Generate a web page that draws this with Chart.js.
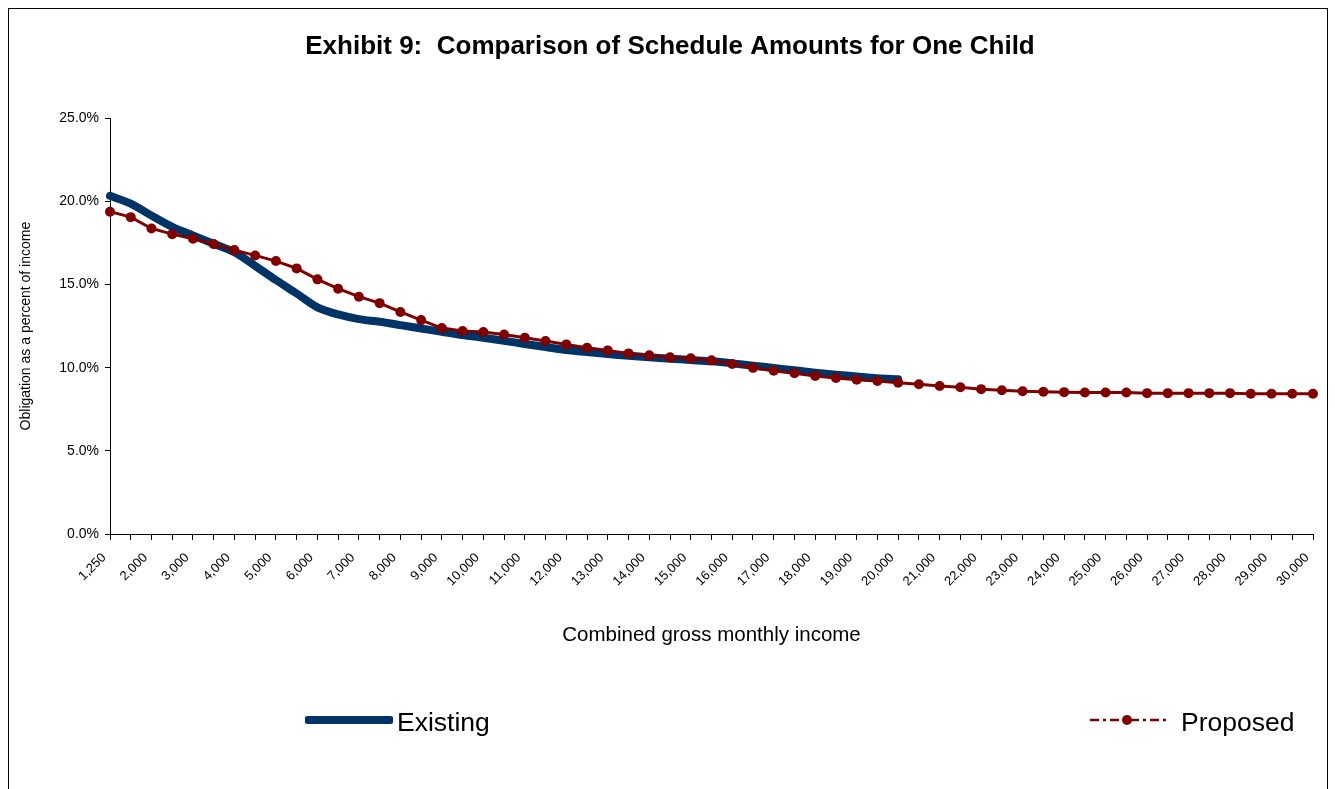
<!DOCTYPE html>
<html>
<head>
<meta charset="utf-8">
<title>Exhibit 9</title>
<script src="https://cdn.jsdelivr.net/npm/chart.js@4"></script>
<style>
  body { margin: 0; background: #fff; font-family: "Liberation Sans", Arial, sans-serif; }
  #wrap { position: relative; width: 1335px; height: 789px; overflow: hidden; }
  #frame { position: absolute; left: 8px; top: 8px; width: 1318px; height: 820px; border: 1px solid #000; }
  canvas { position: absolute; left: 0; top: 0; }
  .leg { position: absolute; font-size: 26.5px; color: #000; line-height: 1; }
  .leg svg { position: absolute; }
</style>
</head>
<body>
<div id="wrap">
  <div id="frame"></div>
  <canvas id="scheduleChart" width="1335" height="789"></canvas>
  <div class="leg" style="left:305px; top:708px;">
    <svg width="88" height="14" style="left:0; top:5px;"><line x1="3" y1="7" x2="85" y2="7" stroke="#003366" stroke-width="8" stroke-linecap="round"/></svg>
    <span style="position:absolute; left:92px; top:1px;">Existing</span>
  </div>
  <div class="leg" style="left:1090px; top:708px;">
    <svg width="78" height="14" style="left:0; top:5px;"><line x1="0" y1="7" x2="76" y2="7" stroke="#800000" stroke-width="2.5" stroke-dasharray="9,4,3,4"/><circle cx="37" cy="7" r="5" fill="#800000"/></svg>
    <span style="position:absolute; left:91px; top:1px; white-space:nowrap;">Proposed</span>
  </div>
</div>
<script>
// Combined gross monthly income categories
const incomes = [1250, 1500, 2000, 2500, 3000, 3500, 4000, 4500, 5000, 5500,
                 6000, 6500, 7000, 7500, 8000, 8500, 9000, 9500, 10000, 10500,
                 11000, 11500, 12000, 12500, 13000, 13500, 14000, 14500, 15000, 15500,
                 16000, 16500, 17000, 17500, 18000, 18500, 19000, 19500, 20000, 20500,
                 21000, 21500, 22000, 22500, 23000, 23500, 24000, 24500, 25000, 25500,
                 26000, 26500, 27000, 27500, 28000, 28500, 29000, 29500, 30000];

// Obligation as a percent of income (existing schedule stops at 20,000)
const existing = [20.33, 19.87, 19.15, 18.47, 17.95, 17.45, 16.94, 16.12, 15.27, 14.46,
                  13.63, 13.20, 12.92, 12.76, 12.56, 12.36, 12.16, 11.96, 11.80, 11.62,
                  11.42, 11.24, 11.06, 10.94, 10.82, 10.72, 10.62, 10.54, 10.46, 10.38,
                  10.26, 10.12, 9.98, 9.84, 9.70, 9.58, 9.47, 9.37, 9.30];

const proposed = [19.38, 19.05, 18.37, 18.03, 17.75, 17.43, 17.07, 16.75, 16.41, 15.97,
                  15.31, 14.75, 14.27, 13.88, 13.35, 12.86, 12.38, 12.21, 12.14, 11.99,
                  11.80, 11.60, 11.40, 11.20, 11.04, 10.86, 10.74, 10.62, 10.56, 10.44,
                  10.22, 9.99, 9.82, 9.66, 9.50, 9.38, 9.28, 9.20, 9.10, 9.00,
                  8.90, 8.82, 8.71, 8.64, 8.58, 8.55, 8.53, 8.51, 8.51, 8.51,
                  8.47, 8.47, 8.47, 8.47, 8.47, 8.43, 8.43, 8.43, 8.43];

const yTicks = [0, 5, 10, 15, 20, 25];

Chart.defaults.font.family = '"Liberation Sans", Arial, sans-serif';
Chart.defaults.color = '#000';

let ctx = document.getElementById('scheduleChart').getContext('2d');
let scheduleChart = new Chart(ctx, {
    type: 'line',
    data: {
        labels: incomes.map(v => v.toLocaleString('en-US')),
        datasets: [{
            label: 'Existing',
            data: existing,
            order: 2,
            borderColor: '#003366',
            backgroundColor: '#003366',
            borderWidth: 8,
            borderCapStyle: 'round',
            borderJoinStyle: 'round',
            pointRadius: 0,
            tension: 0.3
        }, {
            label: 'Proposed',
            data: proposed,
            order: 1,
            borderColor: '#800000',
            backgroundColor: '#800000',
            borderWidth: 3,
            pointRadius: 5,
            pointBorderWidth: 0,
            pointBackgroundColor: '#800000',
            tension: 0
        }]
    },
    options: {
        responsive: false,
        animation: false,
        layout: { padding: { top: 28, left: 27, right: 22, bottom: 125 } },
        plugins: {
            legend: { display: false },
            tooltip: { enabled: false },
            title: {
                display: true,
                text: 'Exhibit 9:  Comparison of Schedule Amounts for One Child',
                font: { size: 26, weight: 'bold' },
                padding: { top: 3, bottom: 56 }
            }
        },
        scales: {
            x: {
                offset: false,
                grid: { display: true, drawOnChartArea: false, drawTicks: true, tickLength: 6, color: '#000' },
                border: { color: '#000', width: 1 },
                ticks: {
                    autoSkip: false,
                    minRotation: 45,
                    maxRotation: 45,
                    font: { size: 13 },
                    padding: 10,
                    labelOffset: -6,
                    callback: function(value, index) {
                        return index % 2 === 0 ? this.getLabelForValue(value) : '';
                    }
                },
                title: {
                    display: true,
                    text: 'Combined gross monthly income',
                    font: { size: 20.5 },
                    padding: { top: 0, bottom: 16 }
                },
                afterFit: scale => { scale.height = 130; }
            },
            y: {
                min: 0,
                max: 25,
                grid: { display: true, drawOnChartArea: false, drawTicks: true, tickLength: 5, color: '#000' },
                border: { color: '#000', width: 1 },
                afterBuildTicks: scale => { scale.ticks = yTicks.map(v => ({ value: v })); },
                ticks: {
                    font: { size: 14 },
                    padding: 6,
                    callback: v => v.toFixed(1) + '%'
                },
                title: {
                    display: true,
                    text: 'Obligation as a percent of income',
                    font: { size: 14 },
                    padding: { top: -9, bottom: 0 }
                },
                afterFit: scale => { scale.width = 83; }
            }
        }
    }
});
</script>
</body>
</html>
